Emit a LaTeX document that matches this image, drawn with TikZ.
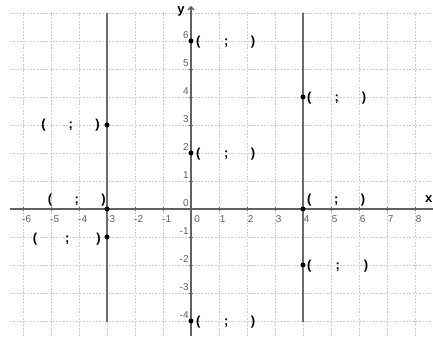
\documentclass[tikz,border=0pt]{standalone}
\usepackage{fontspec}
\setmainfont{Liberation Sans}
\usetikzlibrary{arrows.meta}
\begin{document}
\begin{tikzpicture}[x=28pt,y=28pt,
  gridline/.style={draw=black!20,line width=0.6pt,dash pattern=on 1.8pt off 1.5pt},
  axisline/.style={draw=black!62,line width=1.3pt},
  vline/.style={draw=black!58,line width=1.8pt},
  num/.style={font=\fontsize{10}{11}\selectfont,text=black!62,inner sep=0.5pt},
  pt/.style={circle,fill=black,inner sep=0pt,minimum size=5pt},
  lbl/.style={font=\fontsize{13}{14}\selectfont\bfseries,inner sep=0pt},
  axname/.style={font=\fontsize{13}{14}\selectfont\bfseries,inner sep=0pt}]
\useasboundingbox (-6.821,-4.536) rectangle (8.643,7.464);
\fill[white] (-6.821,-4.536) rectangle (8.643,7.464);
% grid
\foreach \x in {-6,...,8} \draw[gridline] (\x,-4.54) -- (\x,7.05);
\foreach \y in {-4,...,7} \draw[gridline] (-6.46,\y) -- (8.64,\y);
% axes
\draw[axisline] (-6.46,0) -- (8.643,0);
\draw[axisline,-{Straight Barb[length=3pt,width=6pt]}] (0,-4.54) -- (0,7.25);
\node[axname] (yl) at (-0.36,7.07) {y};
\node[axname,anchor=east] (xl) at (8.63,0.36) {x};
% ticks
\foreach \x in {-6,...,8} \draw[black!62,line width=0.8pt] (\x,-0.07) -- (\x,0.07);
\foreach \y in {-4,...,6} \draw[black!62,line width=0.8pt] (-0.07,\y) -- (0.07,\y);
% tick labels
\foreach \x in {-6,-5,-4,-3,-2,-1,1,2,3,4,5,6,7,8}
  \node[num,anchor=north] at (\x+0.13,-0.2) {\x};
\node[num,anchor=north] at (0.22,-0.2) {0};
\foreach \y in {-4,-3,-2,-1,1,2,3,4,5,6}
  \node[num,anchor=east] at (-0.06,\y+0.22) {\y};
\node[num,anchor=south east] at (-0.06,0.06) {0};
% vertical lines
\draw[vline] (-3,-4.02) -- (-3,7.0);
\draw[vline] (4,-4.02) -- (4,7.0);
% points
\node[pt] (p1) at (0,6) {};
\node[pt] (p2) at (0,2) {};
\node[pt] (p3) at (-3,3) {};
\node[pt] (p4) at (-3,0) {};
\node[pt] (p5) at (-3,-1) {};
\node[pt] (p6) at (4,4) {};
\node[pt] (p7) at (4,0) {};
\node[pt] (p8) at (4,-2) {};
\node[pt] (p9) at (0,-4) {};
% labels
\node[lbl,anchor=west] (l1) at ([xshift=5pt,yshift=-1.5pt]p1.center) {(\hspace{23.5pt};\hspace{22.5pt})};
\node[lbl,anchor=west] (l2) at ([xshift=5pt,yshift=-1.5pt]p2.center) {(\hspace{23.5pt};\hspace{22.5pt})};
\node[lbl,anchor=east] (l3) at ([xshift=-7pt]p3.center) {(\hspace{23pt};\hspace{22.5pt})};
\node[lbl,anchor=south east] (l4) at ([xshift=-1pt,yshift=3pt]p4.center) {(\hspace{22.5pt};\hspace{22.5pt})};
\node[lbl,anchor=east] (l5) at ([xshift=-6pt,yshift=-2pt]p5.center) {(\hspace{28pt};\hspace{27pt})};
\node[lbl,anchor=west] (l6) at ([xshift=4pt,yshift=-1.5pt]p6.center) {(\hspace{23pt};\hspace{23pt})};
\node[lbl,anchor=south west] (l7) at ([xshift=4pt,yshift=3pt]p7.center) {(\hspace{22.5pt};\hspace{22.5pt})};
\node[lbl,anchor=west] (l8) at ([xshift=4pt,yshift=-1pt]p8.center) {(\hspace{24pt};\hspace{24pt})};
\node[lbl,anchor=west] (l9) at ([xshift=5pt,yshift=-1.5pt]p9.center) {(\hspace{23.5pt};\hspace{22.5pt})};
\end{tikzpicture}
\end{document}
